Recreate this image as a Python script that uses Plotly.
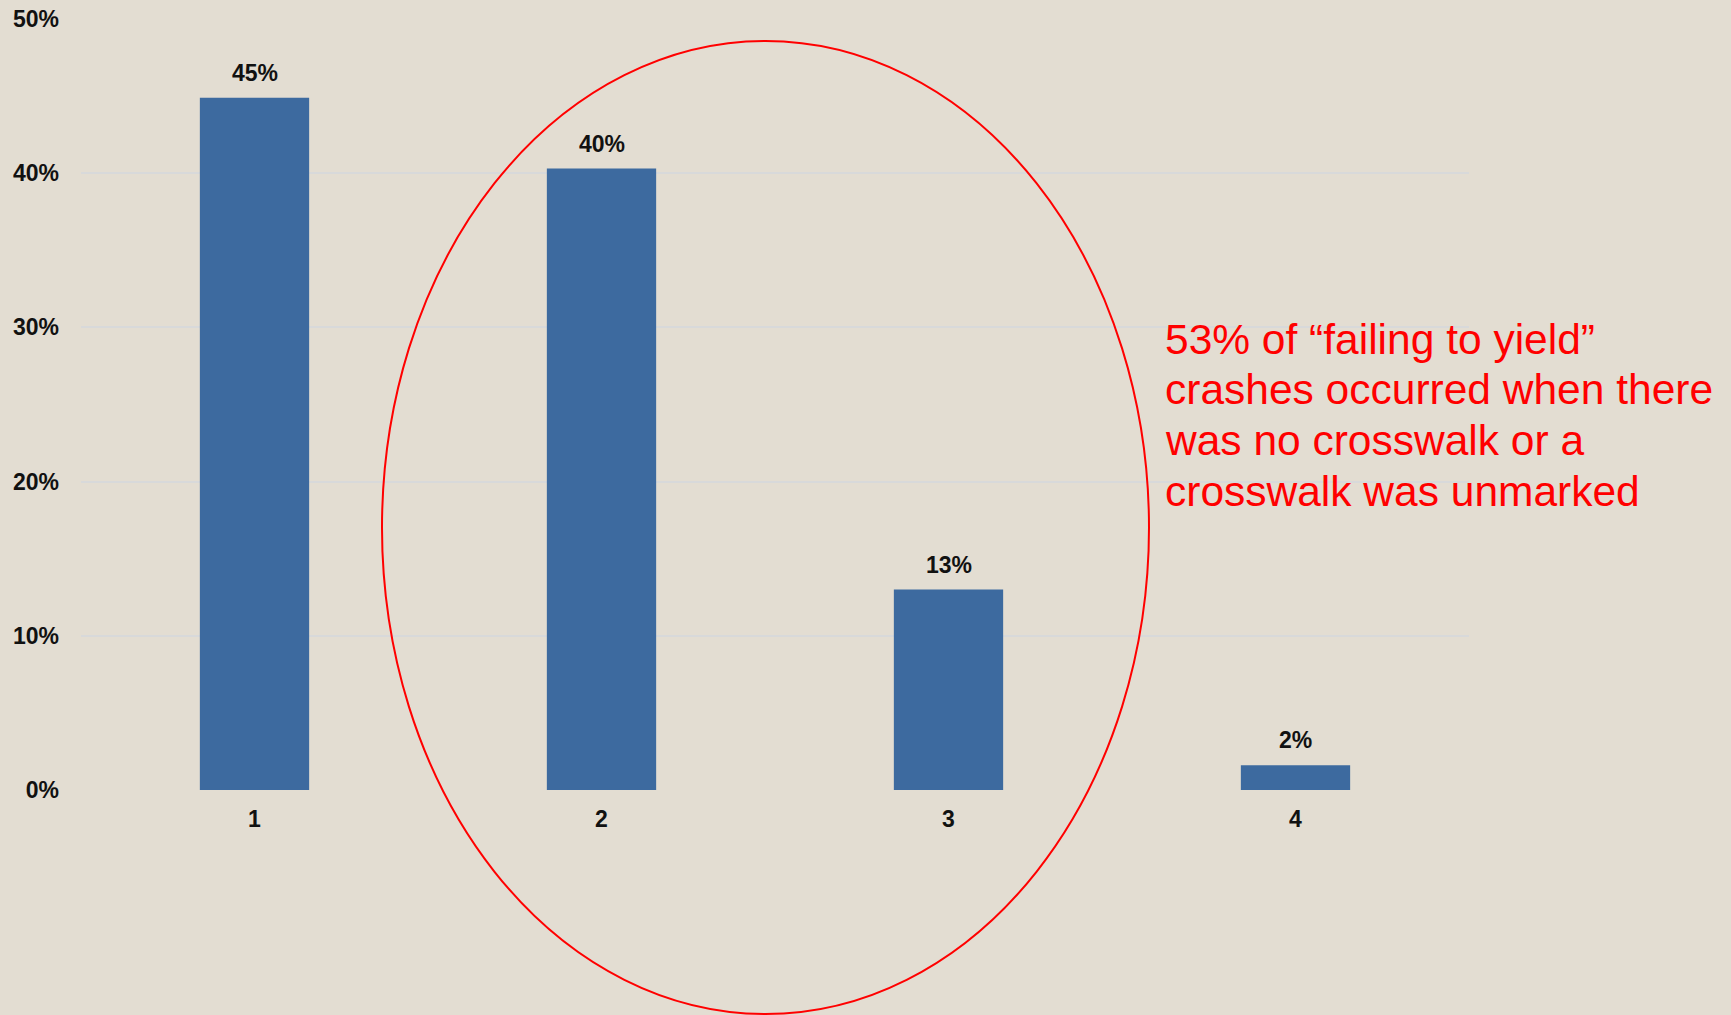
import plotly.graph_objects as go

categories = [1, 2, 3, 4]
values = [0.449, 0.403, 0.130, 0.016]
y_ticks = [0, 0.1, 0.2, 0.3, 0.4, 0.5]
y_tick_labels = ["0%", "10%", "20%", "30%", "40%", "50%"]
note_lines = [
    "53% of \u201cfailing to yield\u201d",
    "crashes occurred when there",
    "was no crosswalk or a",
    "crosswalk was unmarked",
]

BG = "#E3DDD2"
BAR = "#3D6A9F"
GRID = "#D8D9DA"
FONT = "Arial, Liberation Sans, sans-serif"

W, H = 1731, 1015
ML, MR, MT, MB = 81, 262, 19, 225
PW, PH = W - ML - MR, H - MT - MB


def px_x(px):
    return (px - ML) / PW


def px_y(py):
    return (H - MB - py) / PH


fig = go.Figure()
fig.add_trace(go.Bar(
    x=categories, y=values, width=0.315,
    marker=dict(color=BAR, line=dict(width=0)),
    hoverinfo="skip",
))

for c, v in zip(categories, values):
    fig.add_annotation(
        x=c, y=v, xref="x", yref="y", text=f"<b>{v:.0%}</b>", showarrow=False,
        yanchor="middle", yshift=25, font=dict(family=FONT, size=23, color="#111111"),
    )

# note text, one annotation per line for exact line spacing
line_mid_first = 339
line_step = 50.7
for i, line in enumerate(note_lines):
    fig.add_annotation(
        x=px_x(1163), y=px_y(line_mid_first + i * line_step), xref="paper", yref="paper",
        xanchor="left", yanchor="middle", align="left", showarrow=False, text=line,
        font=dict(family=FONT, size=42.5, color="#FF0000"),
    )

fig.add_shape(
    type="circle", xref="paper", yref="paper",
    x0=px_x(382), x1=px_x(1149), y0=px_y(1014), y1=px_y(41),
    line=dict(color="#FF0000", width=2), fillcolor="rgba(0,0,0,0)",
)

fig.update_layout(
    width=W, height=H,
    paper_bgcolor=BG, plot_bgcolor=BG,
    margin=dict(l=ML, r=MR, t=MT, b=MB, autoexpand=False),
    showlegend=False,
    font=dict(family=FONT, size=23, color="#111111"),
)
fig.update_xaxes(
    range=[0.5, 4.5], tickvals=categories,
    ticktext=[f"<b>{c}</b>" for c in categories],
    showgrid=False, zeroline=False, showline=False,
    tickfont=dict(family=FONT, size=23, color="#111111"),
    ticklabelstandoff=13,
)
fig.update_yaxes(
    range=[0, 0.5], tickvals=y_ticks, ticktext=[f"<b>{t}</b>" for t in y_tick_labels],
    showgrid=True, gridcolor=GRID, gridwidth=2, zeroline=False, showline=False,
    tickfont=dict(family=FONT, size=23, color="#111111"),
    ticklabelstandoff=21,
)

fig.write_html(
    "out.html",
    config={"displayModeBar": False},
    post_script="document.body.style.margin='0';document.body.style.overflow='hidden';",
)
